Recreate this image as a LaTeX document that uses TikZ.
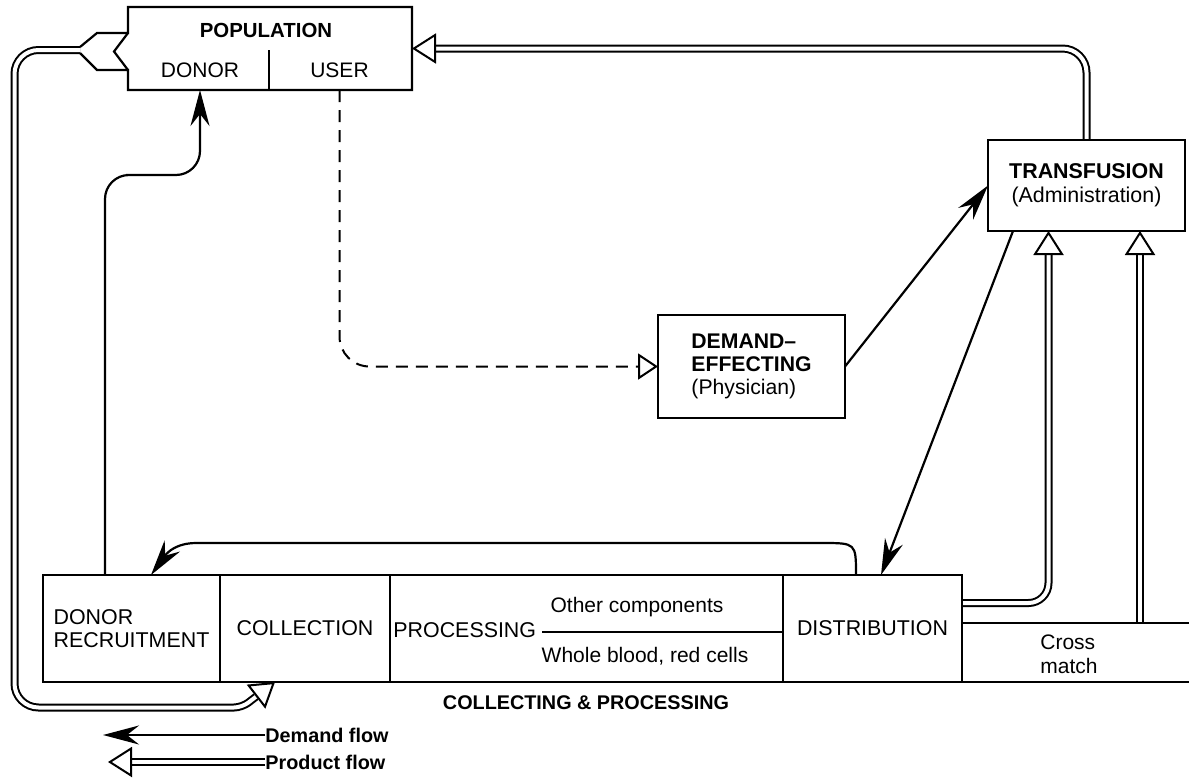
\documentclass[tikz,border=0pt]{standalone}
\usepackage{fontspec}
\setmainfont{Liberation Sans}
\usetikzlibrary{arrows.meta,positioning,calc,backgrounds}
\tikzset{
  unit/.style     = {draw, line width=1.1pt, inner sep=0pt, outer sep=0pt,
                     align=center, font=\fontsize{10.7}{12}\selectfont},
  lbl/.style      = {inner sep=0pt, font=\fontsize{10.5}{12}\selectfont},
  headlbl/.style  = {inner sep=0pt, font=\fontsize{10.2}{12}\selectfont\bfseries},
  edge/.style     = {line width=1.1pt},
  demandflow/.style = {line width=1.1pt, -{Stealth[length=18pt, width=9.5pt, inset=6pt]}},
  userflow/.style = {line width=1pt, dash pattern=on 6pt off 4pt, rounded corners=15pt,
                     -{Triangle[open, length=10pt, width=13pt, line width=1pt]}},
  productflow/.style = {line width=4pt, rounded corners=12pt, shorten >=12pt,
                     postaction={draw=white, line width=2pt},
                     postaction={draw=white, line width=0.2pt, shorten >=0pt,
                       -{Triangle[open, length=12pt, width=15pt, line width=1pt, color=black]}}},
}

\begin{document}
\begin{tikzpicture}[x=0.5pt, y=-0.5pt]
  \useasboundingbox (0,0) rectangle (1189,777);

  % population
  \node[minimum width=142pt, minimum height=41.5pt, inner sep=0pt, outer sep=0pt] (pop) at (270,48.5) {};
  \node[headlbl] (poptitle) at (266,30) {POPULATION};
  \node[lbl] (donor) at (200,70) {DONOR};
  \node[lbl] (user) at (339.5,70) {USER};
  \coordinate (tail) at (80,50);
  \draw[edge] ($(tail)+(0,-3)$) -- (97,33) -- (128,33) -- (pop.north west) -- (pop.north east)
    -- (pop.south east) -- (pop.south west) -- (128,70) -- (97,70) -- ($(tail)+(0,3)$);
  \draw[edge] (128,33) -- (114,51.5) -- (128,70);
  \draw[edge] (269,50) -- (269,90);

  % transfusion and physician
  \node[unit, minimum width=98.5pt, minimum height=45.5pt] (trans) at (1086.5,185.5)
    {\textbf{TRANSFUSION}\\(Administration)};
  \node[unit, align=left, minimum width=93.5pt, minimum height=51.5pt,
        font=\fontsize{10.6}{11.5}\selectfont] (dem) at (751.5,366.5)
    {\textbf{DEMAND--}\\\textbf{EFFECTING}\\(Physician)};

  % collecting & processing row
  \node[unit, align=left, minimum width=88.5pt, minimum height=53.5pt,
        font=\fontsize{10.7}{11.5}\selectfont] (rec) at (131.5,628.5) {DONOR\\RECRUITMENT};
  \node[unit, minimum width=85pt, minimum height=53.5pt, right=0pt of rec] (col) {COLLECTION};
  \node[unit, minimum width=196.5pt, minimum height=53.5pt, right=0pt of col] (proc) {};
  \node[unit, minimum width=89.5pt, minimum height=53.5pt, right=0pt of proc] (dist) {DISTRIBUTION};
  \node[lbl, font=\fontsize{10.7}{12}\selectfont, anchor=west] (proclbl) at (393,630) {PROCESSING};
  \node[lbl] (other) at (637,607) {Other components};
  \node[lbl] (whole) at (645,656) {Whole blood, red cells};
  \draw[line width=1pt] (542,632) -- (proc.east |- 0,632);
  \draw[edge] (dist.east |- 0,623) -- (1189,623);
  \draw[edge] (dist.south east) -- (1189,682);
  \node[lbl, align=left, anchor=west] (xm) at (1040,654) {Cross\\match};
  \coordinate (xmtop) at (1140,623);
  \node[headlbl, font=\fontsize{9.9}{12}\selectfont\bfseries] (cp) at (586,703) {COLLECTING \& PROCESSING};

  % legend
  \node[headlbl, font=\fontsize{9.9}{12}\selectfont\bfseries, anchor=west] (dflow) at (265,735) {Demand flow};
  \node[headlbl, font=\fontsize{9.9}{12}\selectfont\bfseries, anchor=west] (pflow) at (265,762) {Product flow};
  \coordinate (dtip) at (103,735);
  \coordinate (ptip) at (108,762);

  % product flow
  \begin{scope}[on background layer]
    \draw[productflow] (tail) -- (14.5,50) -- (14.5,707.5) [rounded corners=4pt] -- (242,707.5)
      -- ([xshift=-15pt]col.south);
    \draw[productflow] (trans.north) |- (pop.east);
    \draw[productflow, rounded corners=10pt] ([yshift=12.75pt]dist.east) -| ([xshift=-19pt]trans.south);
    \draw[productflow] (xmtop) -- (xmtop |- trans.south);
    \draw[productflow] (pflow.west) -- (ptip);
  \end{scope}

  % demand flow
  \draw[demandflow, rounded corners=12pt] ([xshift=31pt]rec.north west) |- (150,175) -| (pop.south -| donor);
  \draw[demandflow] ([xshift=-8.25pt]dist.north) .. controls (856,543) .. (822,543) -- (196,543)
    .. controls (170,543) and (162,560) .. ([xshift=9.75pt]rec.north);
  \draw[demandflow] (dem.east) -- (trans.west);
  \draw[demandflow] ([xshift=12.5pt]trans.south west) -- ([xshift=4.25pt]dist.north);
  \draw[userflow] (pop.south -| user) |- (dem.west);
  \draw[demandflow] (dflow.west) -- (dtip);
\end{tikzpicture}
\end{document}
